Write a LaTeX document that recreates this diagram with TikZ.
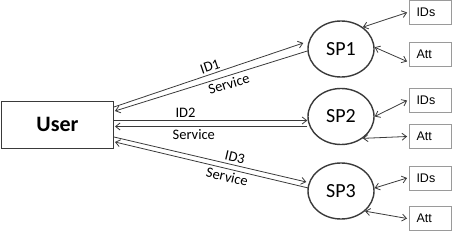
\documentclass[tikz,border=0pt]{standalone}
\usepackage{fontspec}
\setmainfont{Carlito}
\newfontfamily\boxfont{Liberation Sans}
\usetikzlibrary{arrows.meta, shapes.geometric}
\definecolor{linegray}{HTML}{3A3A3A}
\definecolor{boxgray}{HTML}{9A9A9A}
\tikzset{
  userbox/.style={
    rectangle, draw=linegray, line width=0.9pt,
    minimum width=112pt, minimum height=47pt,
    font=\fontsize{22}{24}\selectfont\bfseries
  },
  spnode/.style={
    ellipse, draw=linegray, line width=1.4pt, inner sep=0pt,
    minimum width=66pt, minimum height=56pt,
    font=\fontsize{20}{22}\selectfont
  },
  attbox/.style={
    rectangle, draw=boxgray, line width=0.8pt,
    text width=27pt, inner xsep=7.5pt, inner ysep=0pt, align=left,
    minimum height=24pt,
    font=\boxfont\fontsize{12.5}{14}\selectfont
  },
  arr/.style={draw=linegray, line width=0.8pt, -{Straight Barb[length=4.5pt,width=7pt]}},
  darr/.style={draw=linegray, line width=0.8pt,
    {Straight Barb[length=4.5pt,width=7pt]}-{Straight Barb[length=4.5pt,width=7pt]}},
  lbl/.style={font=\fontsize{14.5}{16}\selectfont, sloped, inner sep=2.5pt}
}
\begin{document}
\begin{tikzpicture}[x=1pt, y=-1pt]
  \useasboundingbox (0,0) rectangle (452,232);

  \node[userbox] (user) at (57.5,124.5) {User};

  \node[spnode] (sp1) at (341,49)    {SP1};
  \node[spnode] (sp2) at (341,116.5) {SP2};
  \node[spnode] (sp3) at (341,191)   {SP3};

  \node[attbox] (ids1) at (430,12.5)  {IDs};
  \node[attbox] (att1) at (430,54.5)  {Att};
  \node[attbox] (ids2) at (430,100.5) {IDs};
  \node[attbox] (att2) at (430,136.5) {Att};
  \node[attbox] (ids3) at (430,178)   {IDs};
  \node[attbox] (att3) at (430,218.5) {Att};

  % user <-> service providers
  \draw[arr] ([yshift=17.5pt]user.east) --
    node[lbl, above, pos=0.52]{ID1} ([xshift=-4pt,yshift=6pt]sp1.west);
  \draw[arr] ([yshift=-2pt]sp1.west) --
    node[lbl, below, pos=0.42]{Service} ([xshift=1pt,yshift=13.5pt]user.east);

  \draw[arr] ([yshift=4pt]user.east) --
    node[lbl, above, pos=0.37]{ID2} ([yshift=-4pt]sp2.west);
  \draw[arr] ([yshift=-10pt]sp2.west) --
    node[lbl, below, pos=0.59]{Service} ([xshift=1pt,yshift=-2pt]user.east);

  \draw[arr] ([yshift=-12.5pt]user.east) --
    node[lbl, above, pos=0.62]{ID3} ([xshift=-1pt,yshift=9pt]sp3.west);
  \draw[arr] ([xshift=1pt,yshift=3pt]sp3.west) --
    node[lbl, below, pos=0.41]{Service} ([xshift=1pt,yshift=-17.5pt]user.east);

  % service providers <-> stores
  \draw[darr] (sp1.45)  -- ([xshift=-1.5pt]ids1.west);
  \draw[darr] (sp1.3)   -- ([xshift=-1.5pt,yshift=-7pt]att1.west);
  \draw[darr] (sp2.east) -- ([xshift=-1.5pt]ids2.west);
  \draw[darr] (sp2.-45) -- ([xshift=-1.5pt]att2.west);
  \draw[darr] (sp3.5)   -- ([xshift=-1.5pt]ids3.west);
  \draw[darr] (sp3.-40) -- ([xshift=-1.5pt]att3.west);

\end{tikzpicture}
\end{document}
